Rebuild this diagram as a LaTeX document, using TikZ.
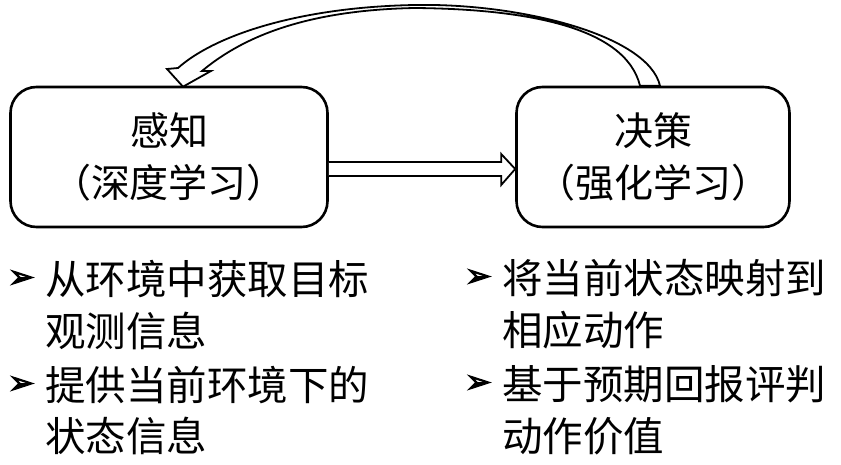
\documentclass[tikz,border=0pt]{standalone}
\usepackage{fontspec}
\newfontfamily\cjk{Noto Sans CJK SC}
\newfontfamily\symfont[FakeBold=3]{DejaVu Sans}
\usetikzlibrary{calc,positioning}
\tikzset{
  stage/.style={draw,line width=2.6pt,rounded corners=26pt,minimum height=140pt,
    inner sep=0pt,align=center,font=\cjk\fontsize{39}{52}\selectfont},
  item/.style={anchor=west,inner sep=0pt,font=\cjk\fontsize{40.5}{52}\selectfont},
  bul/.style={inner sep=0pt,font=\symfont\fontsize{32}{36}\selectfont},
  blockarrow/.style={draw,line width=1.8pt,fill=white,line join=miter}
}
\begin{document}
\begin{tikzpicture}[x=1pt,y=-1pt]
  \useasboundingbox (0,0) rectangle (841,465);

  % Two stages
  \node[stage,minimum width=317pt] (perc) at (169,157) {感知\\（深度学习）};
  \node[stage,minimum width=273pt] (dec) at (653,157) {决策\\（强化学习）};

  % Forward block arrow
  \draw[blockarrow] ($(perc.east)+(0,5)$) -- ($(dec.west)+(-14,5)$) -- ($(dec.west)+(-14,-3)$)
    -- ($(dec.west)+(0,12)$) -- ($(dec.west)+(-14,28)$) -- ($(dec.west)+(-14,19)$) -- ($(perc.east)+(0,19)$);

  % Feedback arrow over the top
  \coordinate (tailout) at ($(dec.north)+(7,0)$);
  \coordinate (tailin) at ($(dec.north)+(-13,0)$);
  \coordinate (tip) at ($(perc.north)+(14,1)$);
  \draw[blockarrow] (tailout) .. controls (648,35) and (520,3) .. (415,5)
    .. controls (300,7) and (215,35) .. (178,68) -- (167,69) -- (tip) -- (211,71) -- (202,71)
    .. controls (245,35) and (310,10) .. (415,8)
    .. controls (520,9) and (625,25) .. (tailin) -- cycle;

  % Perception notes
  \node[item] (l1) at (45,279) {从环境中获取目标};
  \node[item] (l2) at (45,331) {观测信息};
  \node[item] (l3) at (45,385) {提供当前环境下的};
  \node[item] (l4) at (45,436) {状态信息};
  \node[bul,left=10pt of l1.west] (bl1) {➢};
  \node[bul,left=10pt of l3.west] (bl3) {➢};

  % Decision notes
  \node[item] (r1) at (502,278) {将当前状态映射到};
  \node[item] (r2) at (502,330) {相应动作};
  \node[item] (r3) at (502,384) {基于预期回报评判};
  \node[item] (r4) at (502,436) {动作价值};
  \node[bul,left=10pt of r1.west] (br1) {➢};
  \node[bul,left=10pt of r3.west] (br3) {➢};
\end{tikzpicture}
\end{document}
